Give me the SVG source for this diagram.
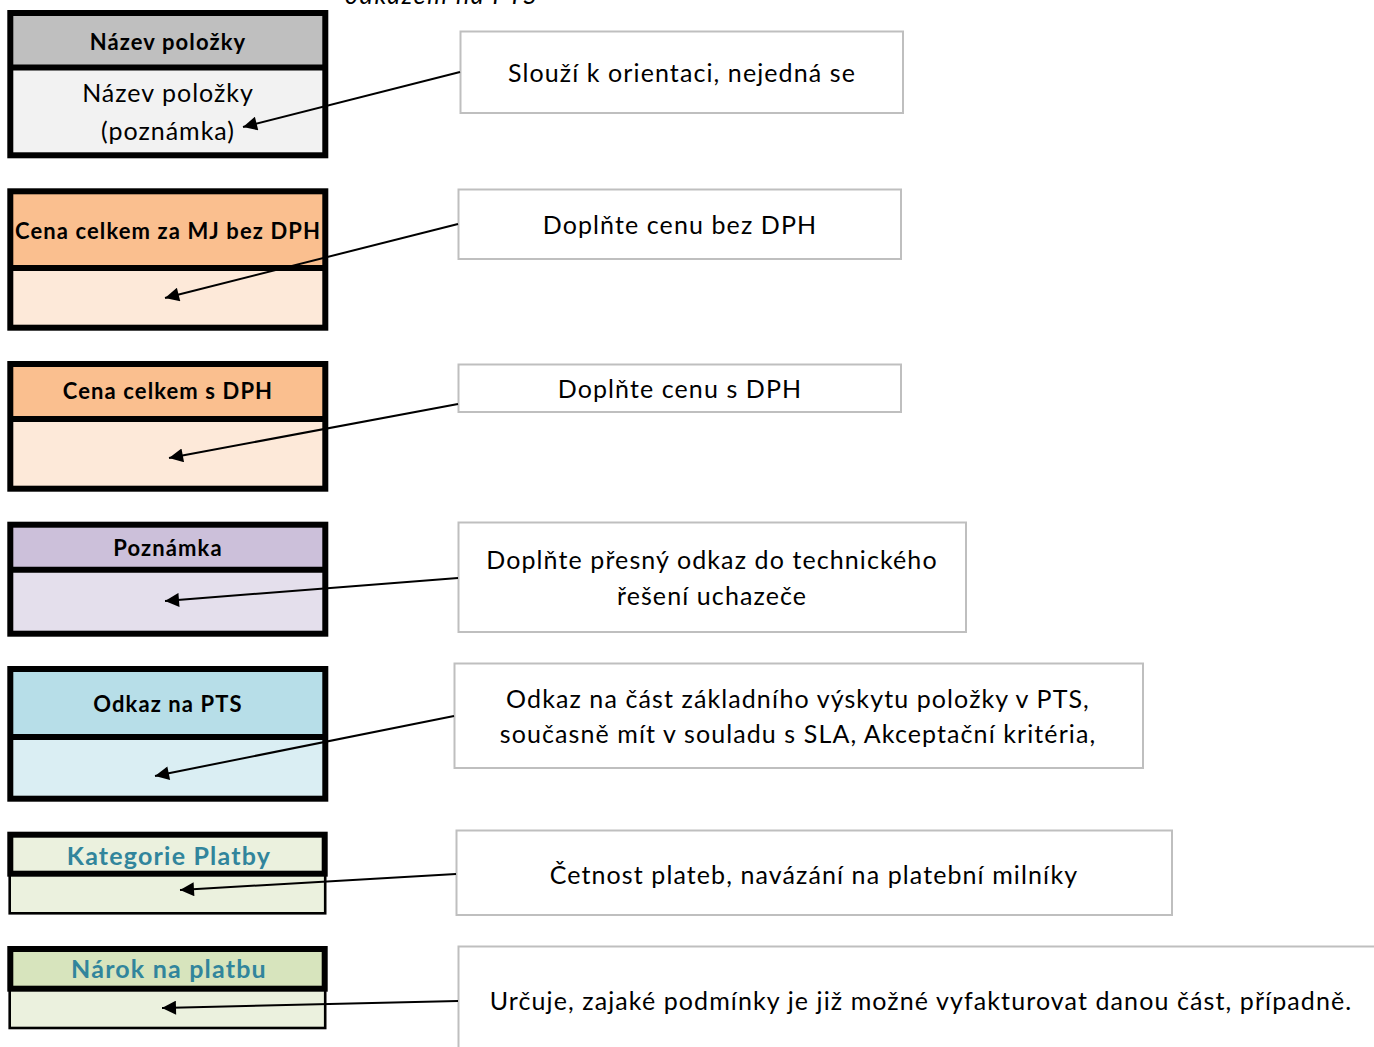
<svg xmlns="http://www.w3.org/2000/svg" width="1374" height="1047" viewBox="0 0 1374 1047">
<defs>
<marker id="arr" viewBox="0 0 10 10" refX="10" refY="5" markerWidth="8.5" markerHeight="7" markerUnits="strokeWidth" orient="auto">
<path d="M0,0 L10,5 L0,10 Z" fill="#000"/>
</marker>
</defs>
<style>
.frame{fill:none;stroke:#000;stroke-width:6}
.thin{fill:none;stroke:#000;stroke-width:2.6}
.sep{stroke:#000;stroke-width:6}
.hd{font-family:Lato,"Open Sans",sans-serif;font-weight:bold;font-size:22px;letter-spacing:1.1px;fill:#000;text-anchor:middle}
.hdt{font-family:Lato,"Open Sans",sans-serif;font-weight:bold;font-size:25px;letter-spacing:1.2px;fill:#31859C;text-anchor:middle}
.bd{font-family:Lato,"Open Sans",sans-serif;font-size:25px;letter-spacing:1px;fill:#000;text-anchor:middle}
.note{fill:#fff;stroke:#BFBFBF;stroke-width:2}
.nt{font-family:Lato,"Open Sans",sans-serif;font-size:25px;letter-spacing:1.1px;fill:#000;text-anchor:middle}
.it{font-family:Lato,"Open Sans",sans-serif;font-style:italic;font-size:25px;letter-spacing:1.6px;fill:#000}
.conn{fill:none;stroke:#000;stroke-width:2;marker-end:url(#arr)}
</style>
<rect width="1374" height="1047" fill="#fff"/>
<text class="it" x="345" y="4">odkazem na PTS</text>

<g id="node-nazev">
<rect x="10" y="13" width="315" height="54" fill="#BFBFBF"/>
<rect x="10" y="67" width="315" height="88" fill="#F2F2F2"/>
<line class="sep" x1="10" y1="67.5" x2="325" y2="67.5"/>
<rect class="frame" x="10.3" y="13" width="315" height="142.3"/>
<text class="hd" x="168" y="50">Název položky</text>
<text class="bd" x="168" y="102">Název položky</text>
<text class="bd" x="168" y="140">(poznámka)</text>
</g>

<g id="node-cena-bez">
<rect x="10" y="191" width="315" height="77" fill="#FABF8F"/>
<rect x="10" y="268" width="315" height="60" fill="#FDE9D9"/>
<line class="sep" x1="10" y1="268" x2="325" y2="268"/>
<rect class="frame" x="10.3" y="191.3" width="315" height="136.4"/>
<text class="hd" x="168" y="239">Cena celkem za MJ bez DPH</text>
</g>

<g id="node-cena-s">
<rect x="10" y="364" width="315" height="55" fill="#FABF8F"/>
<rect x="10" y="419" width="315" height="70" fill="#FDE9D9"/>
<line class="sep" x1="10" y1="419" x2="325" y2="419"/>
<rect class="frame" x="10.3" y="364" width="315" height="124.7"/>
<text class="hd" x="168" y="399">Cena celkem s DPH</text>
</g>

<g id="node-poznamka">
<rect x="10" y="524.7" width="315" height="45" fill="#CCC0DA"/>
<rect x="10" y="569.7" width="315" height="64" fill="#E4DFEC"/>
<line class="sep" x1="10" y1="569.7" x2="325" y2="569.7"/>
<rect class="frame" x="10.3" y="524.7" width="315" height="109"/>
<text class="hd" x="168" y="555.5">Poznámka</text>
</g>

<g id="node-odkaz">
<rect x="10" y="669" width="315" height="68" fill="#B7DEE8"/>
<rect x="10" y="737" width="315" height="62" fill="#DAEEF3"/>
<line class="sep" x1="10" y1="737" x2="325" y2="737"/>
<rect class="frame" x="10.3" y="669" width="315" height="129.7"/>
<text class="hd" x="168" y="711.5">Odkaz na PTS</text>
</g>

<g id="node-kategorie">
<rect x="9.7" y="834" width="315.5" height="79" fill="#EBF1DE"/>
<rect class="thin" x="9.7" y="874" width="315.5" height="39.3"/>
<rect class="frame" x="10.3" y="834.7" width="314.4" height="39"/>
<text class="hdt" x="169" y="865">Kategorie Platby</text>
</g>

<g id="node-narok">
<rect x="9.7" y="949" width="315.5" height="40" fill="#D7E4BD"/>
<rect x="9.7" y="989" width="315.5" height="39" fill="#EBF1DE"/>
<rect class="thin" x="9.7" y="989" width="315.5" height="39"/>
<rect class="frame" x="10.3" y="949" width="314.4" height="39.7"/>
<text class="hdt" x="169" y="978">Nárok na platbu</text>
</g>

<g id="note-1">
<rect class="note" x="460.5" y="31.5" width="442.5" height="81.5"/>
<text class="nt" x="682" y="82">Slouží k orientaci, nejedná se</text>
</g>
<g id="note-2">
<rect class="note" x="458.5" y="189.5" width="442.5" height="69.5"/>
<text class="nt" x="680" y="234">Doplňte cenu bez DPH</text>
</g>
<g id="note-3">
<rect class="note" x="458.5" y="364.5" width="442.5" height="47.5"/>
<text class="nt" x="680" y="398">Doplňte cenu s DPH</text>
</g>
<g id="note-4">
<rect class="note" x="458.5" y="522.5" width="507.5" height="109.5"/>
<text class="nt" x="712" y="569">Doplňte přesný odkaz do technického</text>
<text class="nt" x="712" y="605">řešení uchazeče</text>
</g>
<g id="note-5">
<rect class="note" x="454.5" y="663.5" width="688.5" height="104.5"/>
<text class="nt" x="798" y="708">Odkaz na část základního výskytu položky v PTS,</text>
<text class="nt" x="798" y="743">současně mít v souladu s SLA, Akceptační kritéria,</text>
</g>
<g id="note-6">
<rect class="note" x="456.5" y="830.5" width="715.5" height="84.5"/>
<text class="nt" x="814" y="884">Četnost plateb, navázání na platební milníky</text>
</g>
<g id="note-7">
<path class="note" d="M1376,946.5 H458.5 V1050" fill="none"/>
<text class="nt" x="921" y="1010">Určuje, zajaké podmínky je již možné vyfakturovat danou část, případně.</text>
</g>

<g id="connectors">
<line class="conn" x1="460" y1="72" x2="243" y2="127"/>
<line class="conn" x1="458" y1="224" x2="165" y2="298"/>
<line class="conn" x1="458" y1="404" x2="169" y2="458"/>
<line class="conn" x1="458" y1="578" x2="165" y2="601"/>
<line class="conn" x1="454" y1="716" x2="155" y2="776"/>
<line class="conn" x1="456" y1="874" x2="180" y2="890"/>
<line class="conn" x1="458" y1="1001" x2="162" y2="1008"/>
</g>
</svg>
